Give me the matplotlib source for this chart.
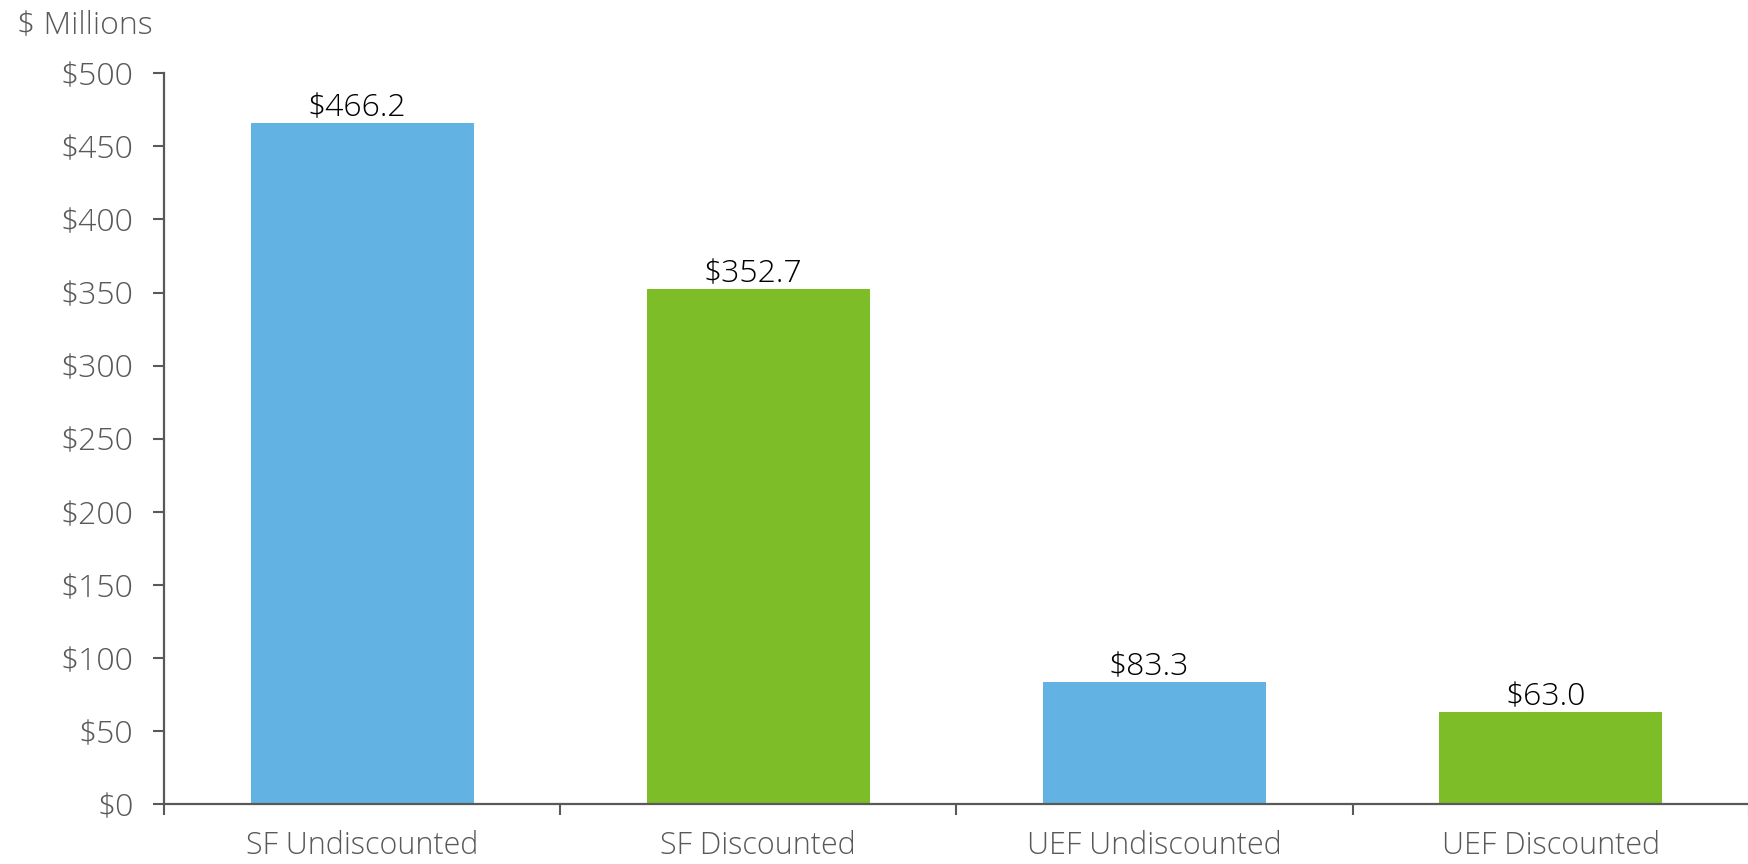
import numpy as np
import matplotlib
matplotlib.use('Agg')
import matplotlib.pyplot as plt
from matplotlib.ticker import FixedLocator

categories = ['SF Undiscounted', 'SF Discounted', 'UEF Undiscounted', 'UEF Discounted']
values = [466.2, 352.7, 83.3, 63.0]
bar_colors = ['#62B3E4', '#7DBD27', '#62B3E4', '#7DBD27']
yticks = [0, 50, 100, 150, 200, 250, 300, 350, 400, 450, 500]

plt.rcParams['font.family'] = ['Open Sans', 'DejaVu Sans']
plt.rcParams['font.weight'] = 'light'
gray = '#595959'

fig = plt.figure(figsize=(17.49, 8.64), dpi=100)
ax = fig.add_axes([164 / 1749, 60 / 864, 1 - 164 / 1749, 730.7 / 864])

x = np.arange(len(categories))
bars = ax.bar(x, values, width=0.563, color=bar_colors, zorder=2)

# value labels just above the bars
for b, v in zip(bars, values):
    ax.annotate('${:.1f}'.format(v), (b.get_x() + b.get_width() / 2, v),
                xytext=(-4, -1), textcoords='offset points',
                ha='center', va='bottom', fontsize=23, color='black', fontweight='light')

ax.set_xlim(-0.5, len(categories) - 0.5)
ax.set_ylim(0, 500)
ax.set_yticks(yticks)
ax.set_yticklabels(['${}'.format(t) for t in yticks])
ax.set_xticks(x)
ax.set_xticklabels(categories)
ax.xaxis.set_minor_locator(FixedLocator(np.arange(-0.5, len(categories), 1.0)))

ax.tick_params(axis='y', length=8, width=1.5, color=gray, labelcolor=gray, labelsize=23, pad=14)
ax.tick_params(axis='x', which='major', length=0, labelcolor=gray, labelsize=22, pad=19)
ax.tick_params(axis='x', which='minor', length=8, width=1.5, color=gray)

for side in ['top', 'right']:
    ax.spines[side].set_visible(False)
for side in ['left', 'bottom']:
    ax.spines[side].set_color(gray)
    ax.spines[side].set_linewidth(1.6)

fig.text(17 / 1749, 1 - 33 / 864, '$ Millions', fontsize=23, color=gray, va='baseline', ha='left')

fig.savefig('out.png', dpi=100)
